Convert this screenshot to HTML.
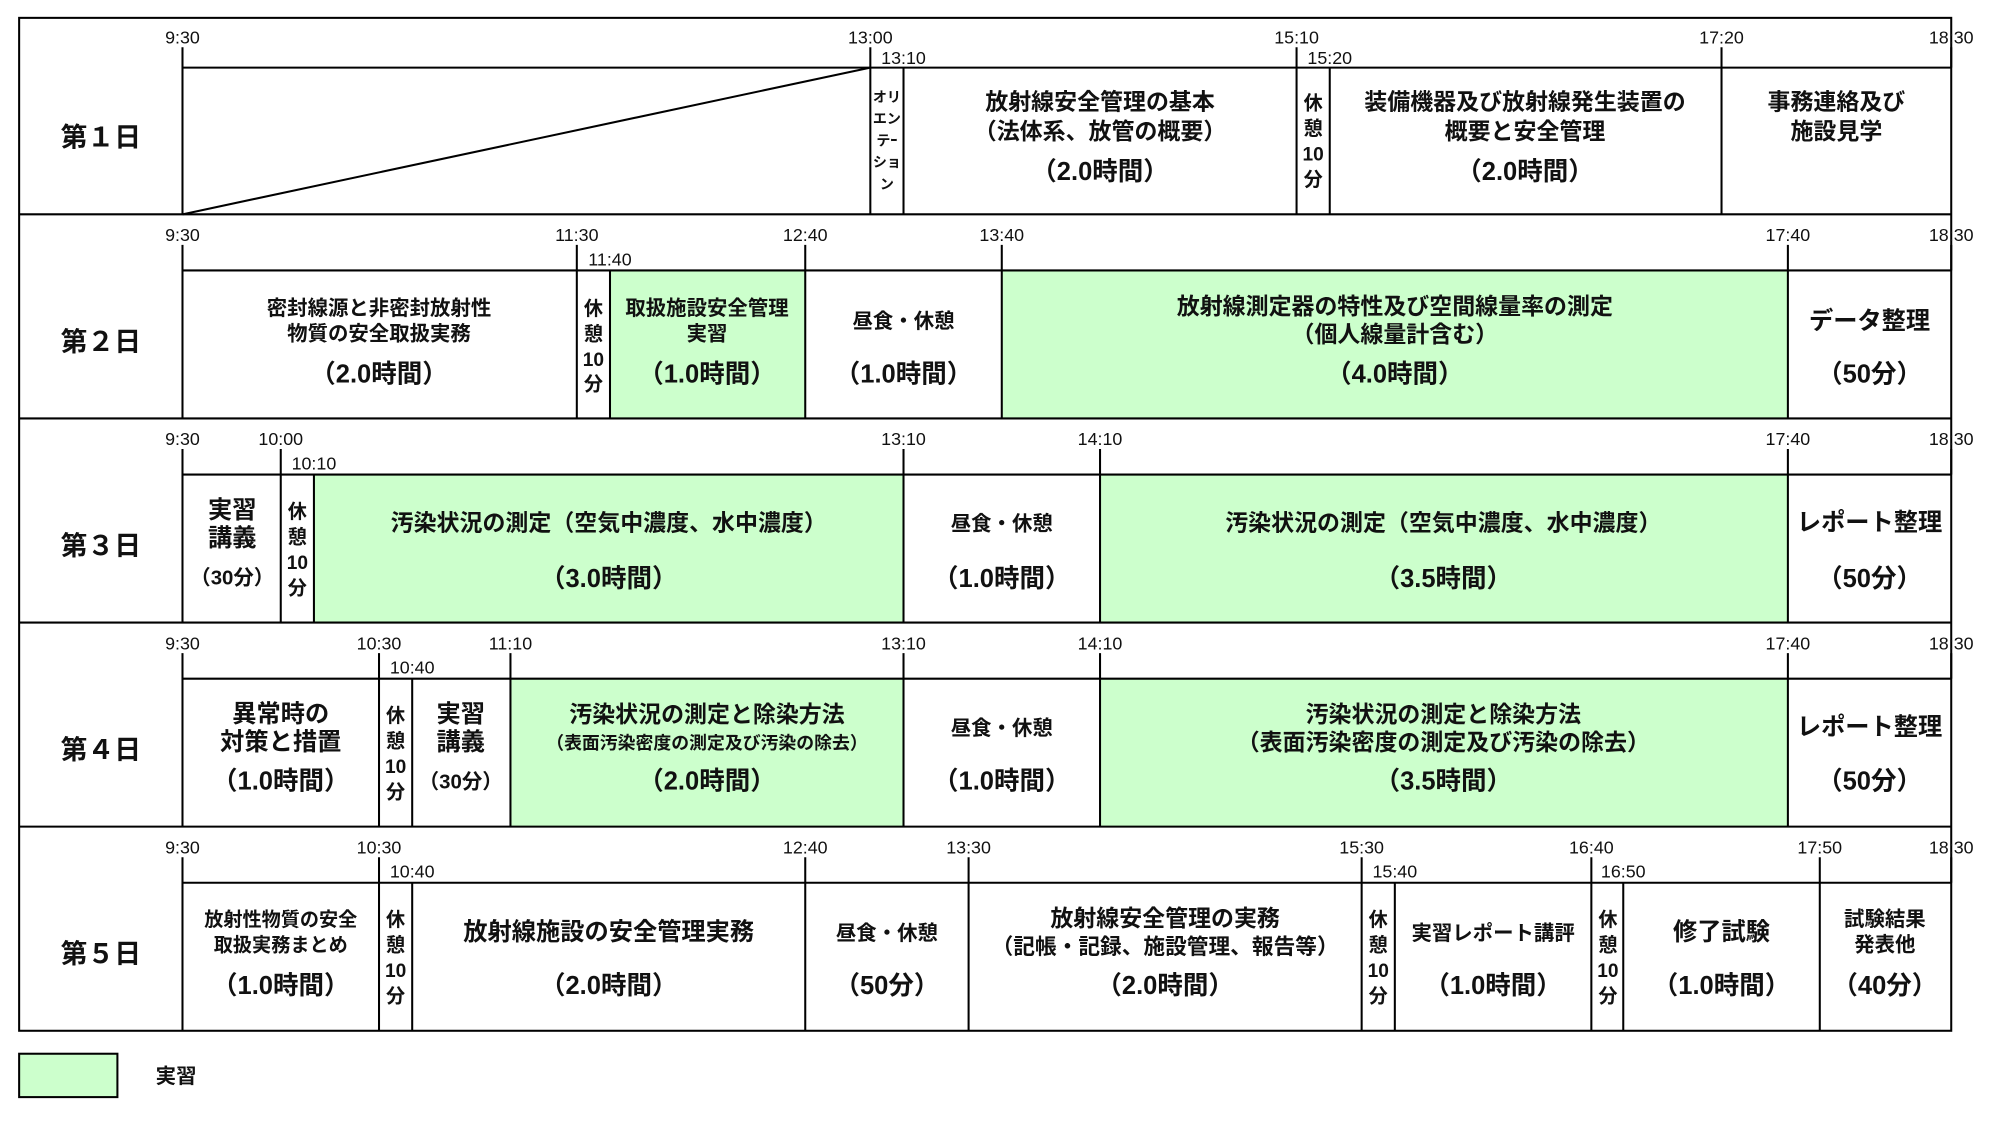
<!DOCTYPE html>
<html><head><meta charset="utf-8"><style>
html,body{margin:0;padding:0;background:#fff;}
svg{display:block;}
text{font-family:"Liberation Sans","Noto Sans CJK JP",sans-serif;font-weight:bold;fill:#111;}
.t{font-size:14px;font-weight:normal;}
.m{text-anchor:middle;}
</style></head><body>
<svg width="2001" height="1129" viewBox="0 0 1568 885" preserveAspectRatio="none" xmlns="http://www.w3.org/2000/svg">
<g fill="#ccffcc" stroke="none">
<rect x="478" y="212" width="153" height="116"/>
<rect x="785" y="212" width="616" height="116"/>
<rect x="246" y="372" width="462" height="116"/>
<rect x="862" y="372" width="539" height="116"/>
<rect x="400" y="532" width="308" height="116"/>
<rect x="862" y="532" width="539" height="116"/>
<rect x="15" y="826" width="77" height="34"/>
</g>
<g stroke="#000" stroke-width="1.6" fill="none">
<rect x="15" y="14" width="1514" height="794"/>
<rect x="15" y="826" width="77" height="34"/>
<line x1="15" y1="168" x2="1529" y2="168"/>
<line x1="15" y1="328" x2="1529" y2="328"/>
<line x1="15" y1="488" x2="1529" y2="488"/>
<line x1="15" y1="648" x2="1529" y2="648"/>
<line x1="143" y1="53" x2="1529" y2="53"/>
<line x1="143" y1="212" x2="1529" y2="212"/>
<line x1="143" y1="372" x2="1529" y2="372"/>
<line x1="143" y1="532" x2="1529" y2="532"/>
<line x1="143" y1="692" x2="1529" y2="692"/>
<line x1="143" y1="168" x2="682" y2="53"/>
<line x1="143" y1="37" x2="143" y2="168"/>
<line x1="682" y1="37" x2="682" y2="168"/>
<line x1="708" y1="53" x2="708" y2="168"/>
<line x1="1016" y1="37" x2="1016" y2="168"/>
<line x1="1042" y1="53" x2="1042" y2="168"/>
<line x1="1349" y1="37" x2="1349" y2="168"/>
<line x1="1529" y1="37" x2="1529" y2="53"/>
<line x1="143" y1="192" x2="143" y2="328"/>
<line x1="452" y1="192" x2="452" y2="328"/>
<line x1="478" y1="212" x2="478" y2="328"/>
<line x1="631" y1="192" x2="631" y2="328"/>
<line x1="785" y1="192" x2="785" y2="328"/>
<line x1="1401" y1="192" x2="1401" y2="328"/>
<line x1="1529" y1="192" x2="1529" y2="212"/>
<line x1="143" y1="352" x2="143" y2="488"/>
<line x1="220" y1="352" x2="220" y2="488"/>
<line x1="246" y1="372" x2="246" y2="488"/>
<line x1="708" y1="352" x2="708" y2="488"/>
<line x1="862" y1="352" x2="862" y2="488"/>
<line x1="1401" y1="352" x2="1401" y2="488"/>
<line x1="1529" y1="352" x2="1529" y2="372"/>
<line x1="143" y1="512" x2="143" y2="648"/>
<line x1="297" y1="512" x2="297" y2="648"/>
<line x1="323" y1="532" x2="323" y2="648"/>
<line x1="400" y1="512" x2="400" y2="648"/>
<line x1="708" y1="512" x2="708" y2="648"/>
<line x1="862" y1="512" x2="862" y2="648"/>
<line x1="1401" y1="512" x2="1401" y2="648"/>
<line x1="1529" y1="512" x2="1529" y2="532"/>
<line x1="143" y1="672" x2="143" y2="808"/>
<line x1="297" y1="672" x2="297" y2="808"/>
<line x1="323" y1="692" x2="323" y2="808"/>
<line x1="631" y1="672" x2="631" y2="808"/>
<line x1="759" y1="672" x2="759" y2="808"/>
<line x1="1067" y1="672" x2="1067" y2="808"/>
<line x1="1093" y1="692" x2="1093" y2="808"/>
<line x1="1247" y1="672" x2="1247" y2="808"/>
<line x1="1272" y1="692" x2="1272" y2="808"/>
<line x1="1426" y1="672" x2="1426" y2="808"/>
<line x1="1529" y1="672" x2="1529" y2="692"/>
</g>
<g font-size="21">
<text x="79" y="115" class="m">第１日</text>
<text x="79" y="275" class="m">第２日</text>
<text x="79" y="435" class="m">第３日</text>
<text x="79" y="595" class="m">第４日</text>
<text x="79" y="755" class="m">第５日</text>
</g>
<g class="t">
<text class="t m" x="143" y="34">9:30</text><text class="t m" x="682" y="34">13:00</text><text class="t m" x="708" y="50">13:10</text><text class="t m" x="1016" y="34">15:10</text><text class="t m" x="1042" y="50">15:20</text><text class="t m" x="1349" y="34">17:20</text><text class="t m" x="1529" y="34">18:30</text>
<text class="t m" x="143" y="189">9:30</text><text class="t m" x="452" y="189">11:30</text><text class="t m" x="478" y="208">11:40</text><text class="t m" x="631" y="189">12:40</text><text class="t m" x="785" y="189">13:40</text><text class="t m" x="1401" y="189">17:40</text><text class="t m" x="1529" y="189">18:30</text>
<text class="t m" x="143" y="349">9:30</text><text class="t m" x="220" y="349">10:00</text><text class="t m" x="246" y="368">10:10</text><text class="t m" x="708" y="349">13:10</text><text class="t m" x="862" y="349">14:10</text><text class="t m" x="1401" y="349">17:40</text><text class="t m" x="1529" y="349">18:30</text>
<text class="t m" x="143" y="509">9:30</text><text class="t m" x="297" y="509">10:30</text><text class="t m" x="323" y="528">10:40</text><text class="t m" x="400" y="509">11:10</text><text class="t m" x="708" y="509">13:10</text><text class="t m" x="862" y="509">14:10</text><text class="t m" x="1401" y="509">17:40</text><text class="t m" x="1529" y="509">18:30</text>
<text class="t m" x="143" y="669">9:30</text><text class="t m" x="297" y="669">10:30</text><text class="t m" x="323" y="688">10:40</text><text class="t m" x="631" y="669">12:40</text><text class="t m" x="759" y="669">13:30</text><text class="t m" x="1067" y="669">15:30</text><text class="t m" x="1093" y="688">15:40</text><text class="t m" x="1247" y="669">16:40</text><text class="t m" x="1272" y="688">16:50</text><text class="t m" x="1426" y="669">17:50</text><text class="t m" x="1529" y="669">18:30</text>
</g>
<g font-size="11">
<text class="m" x="695" y="80">オリ</text><text class="m" x="695" y="97">エン</text><text class="m" x="695" y="114">テｰ</text><text class="m" x="695" y="131">ショ</text><text class="m" x="695" y="148">ン</text>
</g>
<g font-size="18">
<text class="m" x="862" y="86">放射線安全管理の基本</text>
<text class="m" x="862" y="109">（法体系、放管の概要）</text>
<text class="m" x="862" y="141" font-size="20">（2.0時間）</text>
<text class="m" x="1195" y="86">装備機器及び放射線発生装置の</text>
<text class="m" x="1195" y="109">概要と安全管理</text>
<text class="m" x="1195" y="141" font-size="20">（2.0時間）</text>
<text class="m" x="1439" y="86">事務連絡及び</text>
<text class="m" x="1439" y="109">施設見学</text>
</g>
<g font-size="15">
<text class="m" x="1029" y="86">休</text><text class="m" x="1029" y="106">憩</text><text class="m" x="1029" y="126">10</text><text class="m" x="1029" y="146">分</text>
<text class="m" x="465" y="247">休</text><text class="m" x="465" y="267">憩</text><text class="m" x="465" y="287">10</text><text class="m" x="465" y="306">分</text>
<text class="m" x="233" y="406">休</text><text class="m" x="233" y="426">憩</text><text class="m" x="233" y="446">10</text><text class="m" x="233" y="466">分</text>
<text class="m" x="310" y="566">休</text><text class="m" x="310" y="586">憩</text><text class="m" x="310" y="606">10</text><text class="m" x="310" y="626">分</text>
<text class="m" x="310" y="726">休</text><text class="m" x="310" y="746">憩</text><text class="m" x="310" y="766">10</text><text class="m" x="310" y="786">分</text>
<text class="m" x="1080" y="726">休</text><text class="m" x="1080" y="746">憩</text><text class="m" x="1080" y="766">10</text><text class="m" x="1080" y="786">分</text>
<text class="m" x="1260" y="726">休</text><text class="m" x="1260" y="746">憩</text><text class="m" x="1260" y="766">10</text><text class="m" x="1260" y="786">分</text>
</g>
<g font-size="16">
<text class="m" x="297" y="247">密封線源と非密封放射性</text>
<text class="m" x="297" y="267">物質の安全取扱実務</text>
<text class="m" x="554" y="247">取扱施設安全管理</text>
<text class="m" x="554" y="267">実習</text>
<text class="m" x="708" y="257">昼食・休憩</text>
</g>
<g font-size="18">
<text class="m" x="1093" y="246">放射線測定器の特性及び空間線量率の測定</text>
<text class="m" x="1093" y="268">（個人線量計含む）</text>
<text class="m" x="1465" y="258" font-size="19">データ整理</text>
</g>
<g font-size="20">
<text class="m" x="297" y="300">（2.0時間）</text>
<text class="m" x="554" y="300">（1.0時間）</text>
<text class="m" x="708" y="300">（1.0時間）</text>
<text class="m" x="1093" y="300">（4.0時間）</text>
<text class="m" x="1465" y="300">（50分）</text>
</g>
<g font-size="18">
<text class="m" x="182" y="406" font-size="19">実習</text>
<text class="m" x="182" y="428" font-size="19">講義</text>
<text class="m" x="182" y="458" font-size="16">（30分）</text>
<text class="m" x="477" y="416">汚染状況の測定（空気中濃度、水中濃度）</text>
<text class="m" x="785" y="416" font-size="16">昼食・休憩</text>
<text class="m" x="1131" y="416">汚染状況の測定（空気中濃度、水中濃度）</text>
<text class="m" x="1465" y="416" font-size="19">レポート整理</text>
</g>
<g font-size="20">
<text class="m" x="477" y="460">（3.0時間）</text>
<text class="m" x="785" y="460">（1.0時間）</text>
<text class="m" x="1131" y="460">（3.5時間）</text>
<text class="m" x="1465" y="460">（50分）</text>
</g>
<g font-size="18">
<text class="m" x="220" y="566" font-size="19">異常時の</text>
<text class="m" x="220" y="588" font-size="19">対策と措置</text>
<text class="m" x="361" y="566" font-size="19">実習</text>
<text class="m" x="361" y="588" font-size="19">講義</text>
<text class="m" x="361" y="618" font-size="16">（30分）</text>
<text class="m" x="554" y="566">汚染状況の測定と除染方法</text>
<text class="m" x="554" y="587" font-size="14">（表面汚染密度の測定及び汚染の除去）</text>
<text class="m" x="785" y="576" font-size="16">昼食・休憩</text>
<text class="m" x="1131" y="566">汚染状況の測定と除染方法</text>
<text class="m" x="1131" y="588">（表面汚染密度の測定及び汚染の除去）</text>
<text class="m" x="1465" y="576" font-size="19">レポート整理</text>
</g>
<g font-size="20">
<text class="m" x="220" y="619">（1.0時間）</text>
<text class="m" x="554" y="619">（2.0時間）</text>
<text class="m" x="785" y="619">（1.0時間）</text>
<text class="m" x="1131" y="619">（3.5時間）</text>
<text class="m" x="1465" y="619">（50分）</text>
</g>
<g font-size="16">
<text class="m" x="220" y="726" font-size="15">放射性物質の安全</text>
<text class="m" x="220" y="746" font-size="15">取扱実務まとめ</text>
<text class="m" x="477" y="737" font-size="19">放射線施設の安全管理実務</text>
<text class="m" x="695" y="737">昼食・休憩</text>
<text class="m" x="913" y="726" font-size="18">放射線安全管理の実務</text>
<text class="m" x="913" y="748" font-size="17">（記帳・記録、施設管理、報告等）</text>
<text class="m" x="1170" y="737">実習レポート講評</text>
<text class="m" x="1349" y="737" font-size="19">修了試験</text>
<text class="m" x="1477" y="726">試験結果</text>
<text class="m" x="1477" y="746">発表他</text>
</g>
<g font-size="20">
<text class="m" x="220" y="779">（1.0時間）</text>
<text class="m" x="477" y="779">（2.0時間）</text>
<text class="m" x="695" y="779">（50分）</text>
<text class="m" x="913" y="779">（2.0時間）</text>
<text class="m" x="1170" y="779">（1.0時間）</text>
<text class="m" x="1349" y="779">（1.0時間）</text>
<text class="m" x="1477" y="779">（40分）</text>
</g>
<text x="122" y="849" font-size="16">実習</text>
</svg>
</body></html>
